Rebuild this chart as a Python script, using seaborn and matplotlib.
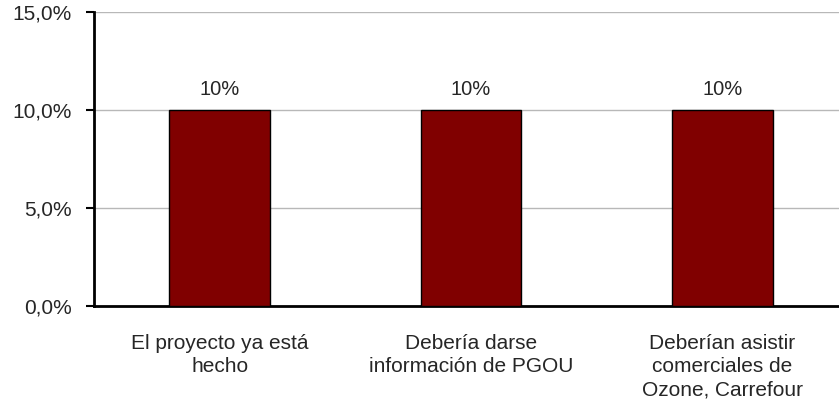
import matplotlib.pyplot as plt
import seaborn as sns
import pandas as pd
import numpy as np

# Data
categories = ["El proyecto ya está\nhecho",
              "Debería darse\ninformación de PGOU",
              "Deberían asistir\ncomerciales de\nOzone, Carrefour"]
values = [10.0, 10.0, 10.0]
bar_labels = ["10%", "10%", "10%"]

df = pd.DataFrame({"cat": categories, "val": values})

sns.set_style("white")
plt.rcParams['font.family'] = ['Liberation Sans', 'DejaVu Sans']

fig = plt.figure(figsize=(8.39, 4.09), dpi=100)
# axes run a little past the right edge of the picture, like the original
ax = fig.add_axes([94 / 839, (409 - 306) / 409, 754 / 839, (306 - 12) / 409])

sns.barplot(data=df, x="cat", y="val", color="#800000", width=0.4,
            edgecolor="black", linewidth=1, saturation=1, ax=ax, zorder=3)

for i, (v, lab) in enumerate(zip(values, bar_labels)):
    ax.text(i, v + 0.55, lab, ha="center", va="bottom", fontsize=14.5)

ax.set_ylim(0, 15)
ax.set_xlim(-0.5, 2.5)
ax.set_yticks([0, 5, 10, 15])
ax.set_yticklabels(["0,0%", "5,0%", "10,0%", "15,0%"], fontsize=15)
ax.yaxis.grid(True, color="#b8b8b8", linewidth=1, zorder=0)
ax.set_axisbelow(True)

# category labels without tick marks, tick marks at boundaries
ax.set_xticks(range(len(categories)))
ax.set_xticklabels(categories, fontsize=15, linespacing=1.3)
ax.tick_params(axis="x", which="major", length=0, pad=20)
ax.set_xticks(np.arange(-0.5, 2.0, 1.0), minor=True)
ax.tick_params(axis="x", which="minor", length=6, width=1.5, color="black", direction="out")
ax.tick_params(axis="y", length=6, width=1.5, color="black", direction="out", left=True, pad=10)

ax.set_xlabel("")
ax.set_ylabel("")
for s in ["top", "right"]:
    ax.spines[s].set_visible(False)
for s in ["left", "bottom"]:
    ax.spines[s].set_color("black")
    ax.spines[s].set_linewidth(2)

fig.savefig("out.png", dpi=100)
